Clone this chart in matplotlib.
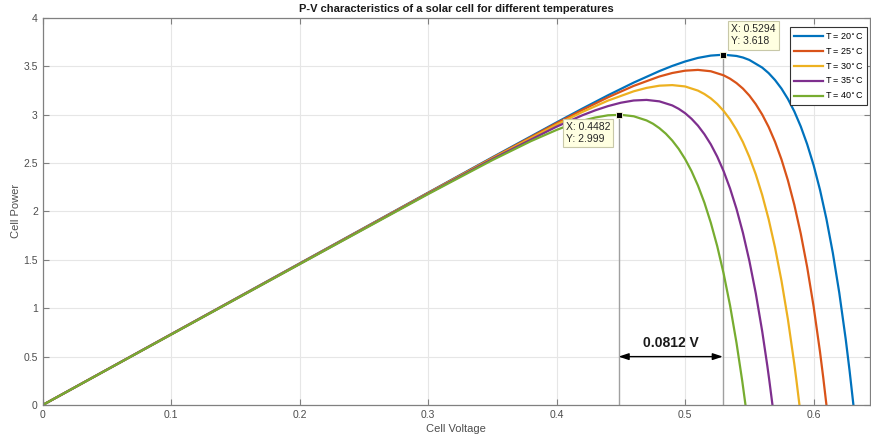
import matplotlib.pyplot as plt
import numpy as np

plt.rcParams['font.family'] = ['Liberation Sans', 'DejaVu Sans']

# curve readings (cell voltage -> cell power), one list per temperature
v_20 = [0, 0.1, 0.2, 0.3, 0.35, 0.40, 0.42, 0.44, 0.46, 0.48, 0.49, 0.50, 0.51, 0.52, 0.53,
        0.54, 0.545, 0.55, 0.56, 0.565, 0.57, 0.575, 0.58, 0.585, 0.59, 0.595, 0.60, 0.605,
        0.61, 0.615, 0.62, 0.625, 0.628, 0.631]
p_20 = [0, 0.732, 1.463, 2.194, 2.559, 2.920, 3.062, 3.200, 3.331, 3.450, 3.503, 3.549, 3.586,
        3.610, 3.619, 3.606, 3.590, 3.565, 3.486, 3.429, 3.357, 3.269, 3.162, 3.033, 2.878,
        2.694, 2.478, 2.222, 1.921, 1.569, 1.158, 0.680, 0.355, 0]

v_25 = [0, 0.1, 0.2, 0.3, 0.35, 0.40, 0.42, 0.44, 0.46, 0.48, 0.49, 0.50, 0.51, 0.52, 0.53,
        0.535, 0.54, 0.545, 0.55, 0.555, 0.56, 0.565, 0.57, 0.575, 0.58, 0.585, 0.59, 0.595,
        0.60, 0.605, 0.6075, 0.610]
p_25 = [0, 0.731, 1.461, 2.191, 2.554, 2.911, 3.048, 3.179, 3.297, 3.394, 3.430, 3.454, 3.462,
        3.448, 3.406, 3.371, 3.326, 3.269, 3.197, 3.108, 3.001, 2.873, 2.719, 2.537, 2.321,
        2.068, 1.771, 1.424, 1.019, 0.548, 0.284, 0]

v_30 = [0, 0.1, 0.2, 0.3, 0.35, 0.40, 0.42, 0.44, 0.46, 0.47, 0.48, 0.49, 0.50, 0.51, 0.515,
        0.52, 0.525, 0.53, 0.535, 0.54, 0.545, 0.55, 0.555, 0.56, 0.565, 0.57, 0.575, 0.58,
        0.585, 0.5865, 0.589]
p_30 = [0, 0.730, 1.459, 2.188, 2.549, 2.897, 3.027, 3.145, 3.241, 3.276, 3.299, 3.305, 3.291,
        3.248, 3.213, 3.168, 3.110, 3.038, 2.950, 2.843, 2.716, 2.563, 2.383, 2.170, 1.920,
        1.626, 1.284, 0.886, 0.423, 0.270, 0]

v_35 = [0, 0.1, 0.2, 0.3, 0.35, 0.40, 0.42, 0.43, 0.44, 0.45, 0.46, 0.47, 0.48, 0.49, 0.495,
        0.50, 0.505, 0.51, 0.515, 0.52, 0.525, 0.53, 0.535, 0.54, 0.545, 0.55, 0.555, 0.56,
        0.564, 0.5655, 0.568]
p_35 = [0, 0.729, 1.457, 2.184, 2.541, 2.876, 2.993, 3.044, 3.088, 3.123, 3.146, 3.152, 3.137,
        3.095, 3.060, 3.015, 2.957, 2.886, 2.798, 2.693, 2.566, 2.415, 2.236, 2.026, 1.779,
        1.490, 1.154, 0.762, 0.404, 0.258, 0]

v_40 = [0, 0.1, 0.2, 0.3, 0.35, 0.38, 0.40, 0.41, 0.42, 0.43, 0.44, 0.45, 0.46, 0.47, 0.475,
        0.48, 0.485, 0.49, 0.495, 0.50, 0.505, 0.51, 0.515, 0.52, 0.525, 0.53, 0.535, 0.54,
        0.5445, 0.547]
p_40 = [0, 0.728, 1.455, 2.179, 2.530, 2.726, 2.842, 2.893, 2.936, 2.970, 2.993, 2.998, 2.983,
        2.940, 2.906, 2.860, 2.803, 2.732, 2.646, 2.541, 2.416, 2.267, 2.091, 1.883, 1.641,
        1.357, 1.027, 0.642, 0.245, 0]

temps = [20, 25, 30, 35, 40]
colors = ['#0072BD', '#D95319', '#EDB120', '#7E2F8E', '#77AC30']

# data tips
mpp_hot = (0.4482, 2.999)
mpp_cold = (0.5294, 3.618)
gap_text = '0.0812 V'

fig = plt.figure(figsize=(8.71, 4.38), dpi=100)
ax = fig.add_axes([0.049, 0.0753, 0.950, 0.884])

curves = [(v_20, p_20), (v_25, p_25), (v_30, p_30), (v_35, p_35), (v_40, p_40)]
for (v, p), t, c in zip(curves, temps, colors):
    ax.plot(v, p, color=c, lw=1.6, label='T = %d$^{\\circ}$C' % t)

# vertical guide lines at the two maximum power points
for x, y in [mpp_hot, mpp_cold]:
    ax.plot([x, x], [0, y], color='#a0a0a0', lw=1, zorder=1)
    ax.plot(x, y, 's', color='black', ms=5, mec='#ffffe1', mew=0.6, zorder=5)

tip_box = dict(boxstyle='square,pad=0.3', fc='#ffffe1', ec='#c8c8a8', lw=0.8)
ax.annotate('X: %.4f\nY: %.3f' % mpp_cold, xy=mpp_cold, xytext=(6, 6),
            textcoords='offset points', ha='left', va='bottom', fontsize=7.5,
            color='#262626', bbox=tip_box, linespacing=1.3, zorder=6)
ax.annotate('X: %.4f\nY: %.3f' % mpp_hot, xy=mpp_hot, xytext=(-6, -5),
            textcoords='offset points', ha='right', va='top', multialignment='left',
            fontsize=7.5, color='#262626', bbox=tip_box, linespacing=1.3, zorder=6)

# double arrow showing the voltage shift
ax.annotate('', xy=(mpp_hot[0], 0.5), xytext=(mpp_cold[0], 0.5),
            arrowprops=dict(arrowstyle='<|-|>,head_length=0.6,head_width=0.2',
                            color='black', lw=1, shrinkA=0, shrinkB=0))
ax.text((mpp_hot[0] + mpp_cold[0]) / 2, 0.64, gap_text, ha='center', va='center',
        fontsize=10, fontweight='bold', color='#1a1a1a')

ax.set_xlim(0, 0.644)
ax.set_ylim(0, 4)
ax.set_xticks(np.arange(0, 0.61, 0.1))
ax.set_xticklabels(['0', '0.1', '0.2', '0.3', '0.4', '0.5', '0.6'])
ax.set_yticks(np.arange(0, 4.01, 0.5))
ax.set_yticklabels(['0', '0.5', '1', '1.5', '2', '2.5', '3', '3.5', '4'])
ax.grid(True, color='#e6e6e6', lw=0.8)
ax.set_axisbelow(True)
ax.tick_params(direction='in', length=4, width=0.8, colors='#808080', labelcolor='#4d4d4d',
               labelsize=7.5, top=True, right=True)
for s in ax.spines.values():
    s.set_color('#808080')
    s.set_linewidth(0.9)

ax.set_title('P-V characteristics of a solar cell for different temperatures',
             fontsize=8, fontweight='bold', color='#1a1a1a', pad=4)
ax.set_xlabel('Cell Voltage', fontsize=8, color='#4d4d4d', labelpad=3)
ax.set_ylabel('Cell Power', fontsize=8, color='#4d4d4d', labelpad=2)

leg = ax.legend(loc='upper right', fontsize=6.5, handlelength=3.2, borderpad=0.4,
                labelspacing=0.45, fancybox=False, framealpha=1, edgecolor='#333333',
                bbox_to_anchor=(0.9995, 0.983), handletextpad=0.25, borderaxespad=0.3)
leg.get_frame().set_linewidth(0.8)

plt.savefig('out.png', dpi=100)
